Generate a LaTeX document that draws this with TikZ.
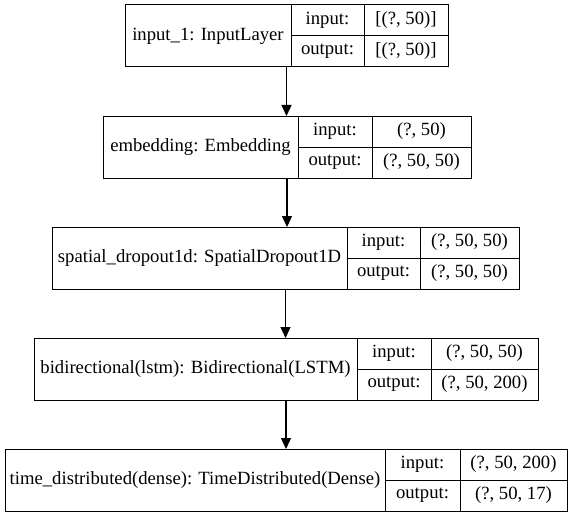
\documentclass[tikz,border=0pt]{standalone}
\usepackage{fontspec}
\setmainfont{Liberation Serif}
\usepackage{tikz}
\usetikzlibrary{arrows.meta, positioning}
\usepackage{xcolor}

\tikzset{
    layer/.style={draw, line width=1pt, minimum height=62pt, inner sep=0pt, outer sep=0pt},
    cell/.style={draw, line width=1pt, minimum height=31pt, inner sep=0pt, outer sep=0pt, anchor=north west,
        font=\rmfamily\fontsize{18.67}{22}\selectfont},
    namecell/.style={cell, minimum height=62pt},
    flow/.style={line width=1.3pt, -{Triangle[width=10pt,length=11pt]}}
}

\begin{document}
\begin{tikzpicture}[x=1pt,y=1pt]
            \useasboundingbox (0,0) rectangle (572,-516);
            % input layer
            \node[layer, minimum width=323pt] (l1) at (286.5,-36) {};
            \node[namecell, minimum width=166pt] (n1) at (l1.north west) {input\_1: InputLayer};
            \node[cell, minimum width=73pt] (i1) at (n1.north east) {input:};
            \node[cell, minimum width=84pt] (iv1) at (i1.north east) {[(?, 50)]};
            \node[cell, minimum width=73pt] (o1) at (i1.south west) {output:};
            \node[cell, minimum width=84pt] (ov1) at (o1.north east) {[(?, 50)]};
            % embedding
            \node[layer, minimum width=368pt] (l2) at (287,-147) {};
            \node[namecell, minimum width=195pt] (n2) at (l2.north west) {embedding: Embedding};
            \node[cell, minimum width=74pt] (i2) at (n2.north east) {input:};
            \node[cell, minimum width=99pt] (iv2) at (i2.north east) {(?, 50)};
            \node[cell, minimum width=74pt] (o2) at (i2.south west) {output:};
            \node[cell, minimum width=99pt] (ov2) at (o2.north east) {(?, 50, 50)};
            % spatial dropout
            \node[layer, minimum width=467pt] (l3) at (285.5,-258) {};
            \node[namecell, minimum width=295pt] (n3) at (l3.north west) {spatial\_dropout1d: SpatialDropout1D};
            \node[cell, minimum width=73pt] (i3) at (n3.north east) {input:};
            \node[cell, minimum width=99pt] (iv3) at (i3.north east) {(?, 50, 50)};
            \node[cell, minimum width=73pt] (o3) at (i3.south west) {output:};
            \node[cell, minimum width=99pt] (ov3) at (o3.north east) {(?, 50, 50)};
            % bidirectional lstm
            \node[layer, minimum width=504pt] (l4) at (286,-369) {};
            \node[namecell, minimum width=323pt] (n4) at (l4.north west) {bidirectional(lstm): Bidirectional(LSTM)};
            \node[cell, minimum width=74pt] (i4) at (n4.north east) {input:};
            \node[cell, minimum width=107pt] (iv4) at (i4.north east) {(?, 50, 50)};
            \node[cell, minimum width=74pt] (o4) at (i4.south west) {output:};
            \node[cell, minimum width=107pt] (ov4) at (o4.north east) {(?, 50, 200)};
            % time distributed dense
            \node[layer, minimum width=562pt] (l5) at (286,-480) {};
            \node[namecell, minimum width=380pt] (n5) at (l5.north west) {time\_distributed(dense): TimeDistributed(Dense)};
            \node[cell, minimum width=75pt] (i5) at (n5.north east) {input:};
            \node[cell, minimum width=107pt] (iv5) at (i5.north east) {(?, 50, 200)};
            \node[cell, minimum width=75pt] (o5) at (i5.south west) {output:};
            \node[cell, minimum width=107pt] (ov5) at (o5.north east) {(?, 50, 17)};
            % arrows between the layers
            \draw[flow] (l1.south) -- (l1.south |- l2.north);
            \draw[flow] (l2.south) -- (l2.south |- l3.north);
            \draw[flow] (l3.south) -- (l3.south |- l4.north);
            \draw[flow] (l4.south) -- (l4.south |- l5.north);
        \end{tikzpicture}
\end{document}
